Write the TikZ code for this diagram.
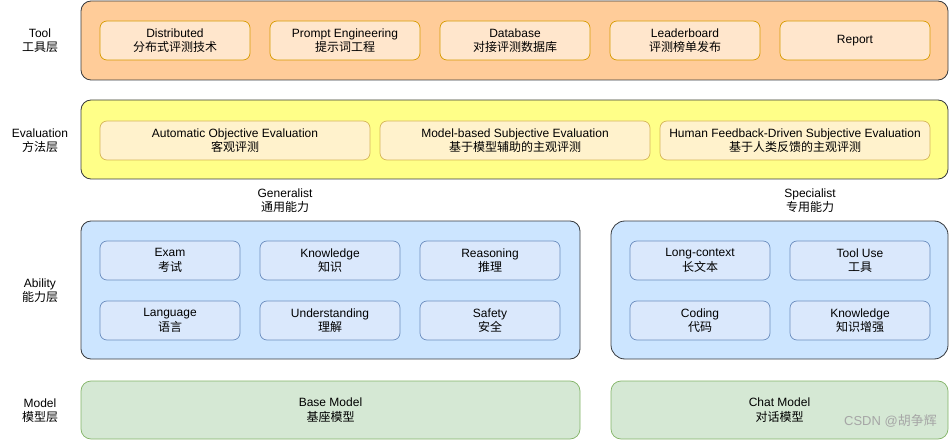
\documentclass[tikz,border=0pt]{standalone}
\usepackage{fontspec}
\setmainfont{Liberation Sans}
\newfontfamily\cjk{Noto Sans CJK SC}
\definecolor{toolfill}{HTML}{FFCC99}
\definecolor{toolin}{HTML}{FFE6CC}
\definecolor{toolinline}{HTML}{D79B00}
\definecolor{evalfill}{HTML}{FFFF88}
\definecolor{evalin}{HTML}{FFF2CC}
\definecolor{evalinline}{HTML}{D6B656}
\definecolor{abfill}{HTML}{CCE5FF}
\definecolor{abin}{HTML}{DAE8FC}
\definecolor{abinline}{HTML}{6C8EBF}
\definecolor{modfill}{HTML}{D5E8D4}
\definecolor{modline}{HTML}{82B366}
\definecolor{darkline}{HTML}{36393D}
\newcommand{\tl}[2]{#1\\[0pt]{\cjk #2}}
\tikzset{
  layer/.style={draw=darkline, line width=0.8pt, rounded corners=10pt},
  inbox/.style={rounded corners=7pt, line width=0.7pt, align=center, font=\fontsize{12}{14.5}\selectfont, inner sep=0pt},
  lbl/.style={align=center, font=\fontsize{12}{14.5}\selectfont, inner sep=0pt},
  toolbox/.style={inbox, draw=toolinline, fill=toolin},
  evalbox/.style={inbox, draw=evalinline, fill=evalin},
  abbox/.style={inbox, draw=abinline, fill=abin},
}
\begin{document}
\begin{tikzpicture}[x=1pt,y=-1pt]
\useasboundingbox (0,0) rectangle (951,441);
% layers
\draw[layer, fill=toolfill] (81,1) rectangle (948,80);
\draw[layer, fill=evalfill] (81,100) rectangle (948,179);
\draw[layer, fill=abfill] (81,221) rectangle (580,359);
\draw[layer, fill=abfill, rounded corners=14pt] (611,221) rectangle (948,359);
% layer labels
\node[lbl] (ltool) at (40,40.5) {\tl{Tool}{工具层}};
\node[lbl] (leval) at (40,140.5) {\tl{Evaluation}{方法层}};
\node[lbl] (lab) at (40,290.5) {\tl{Ability}{能力层}};
\node[lbl] (lmod) at (40,410.5) {\tl{Model}{模型层}};
% tool boxes
\node[toolbox, minimum width=150pt, minimum height=39pt] (t1) at (175,40.5) {\tl{Distributed}{分布式评测技术}};
\node[toolbox, minimum width=150pt, minimum height=39pt] (t2) at (345,40.5) {\tl{Prompt Engineering}{提示词工程}};
\node[toolbox, minimum width=150pt, minimum height=39pt] (t3) at (515,40.5) {\tl{Database}{对接评测数据库}};
\node[toolbox, minimum width=150pt, minimum height=39pt] (t4) at (685,40.5) {\tl{Leaderboard}{评测榜单发布}};
\node[toolbox, minimum width=150pt, minimum height=39pt] (t5) at (855,40.5) {Report};
% evaluation boxes
\node[evalbox, minimum width=270pt, minimum height=39pt] (e1) at (235,140.5) {\tl{Automatic Objective Evaluation}{客观评测}};
\node[evalbox, minimum width=270pt, minimum height=39pt] (e2) at (515,140.5) {\tl{Model-based Subjective Evaluation}{基于模型辅助的主观评测}};
\node[evalbox, minimum width=270pt, minimum height=39pt] (e3) at (795,140.5) {\tl{Human Feedback-Driven Subjective Evaluation}{基于人类反馈的主观评测}};
% group labels
\node[lbl] (gen) at (285,200.5) {\tl{Generalist}{通用能力}};
\node[lbl] (spe) at (810,200.5) {\tl{Specialist}{专用能力}};
% generalist boxes
\node[abbox, minimum width=140pt, minimum height=39pt] (a1) at (170,260.5) {\tl{Exam}{考试}};
\node[abbox, minimum width=140pt, minimum height=39pt] (a2) at (330,260.5) {\tl{Knowledge}{知识}};
\node[abbox, minimum width=140pt, minimum height=39pt] (a3) at (490,260.5) {\tl{Reasoning}{推理}};
\node[abbox, minimum width=140pt, minimum height=39pt] (a4) at (170,320.5) {\tl{Language}{语言}};
\node[abbox, minimum width=140pt, minimum height=39pt] (a5) at (330,320.5) {\tl{Understanding}{理解}};
\node[abbox, minimum width=140pt, minimum height=39pt] (a6) at (490,320.5) {\tl{Safety}{安全}};
% specialist boxes
\node[abbox, minimum width=140pt, minimum height=39pt] (s1) at (700,260.5) {\tl{Long-context}{长文本}};
\node[abbox, minimum width=140pt, minimum height=39pt] (s2) at (860,260.5) {\tl{Tool Use}{工具}};
\node[abbox, minimum width=140pt, minimum height=39pt] (s3) at (700,320.5) {\tl{Coding}{代码}};
\node[abbox, minimum width=140pt, minimum height=39pt] (s4) at (860,320.5) {\tl{Knowledge}{知识增强}};
% model layer
\node[inbox, draw=modline, fill=modfill, rounded corners=10pt, minimum width=499pt, minimum height=58pt] (m1) at (330.5,410) {\tl{Base Model}{基座模型}};
\node[inbox, draw=modline, fill=modfill, rounded corners=10pt, minimum width=337pt, minimum height=58pt] (m2) at (779.5,410) {\tl{Chat Model}{对话模型}};
% watermark
\node[lbl, text=black!35, font=\fontsize{13}{15}\selectfont, anchor=east] (wm) at (937,421) {CSDN @{\cjk 胡争辉}};
\end{tikzpicture}
\end{document}
